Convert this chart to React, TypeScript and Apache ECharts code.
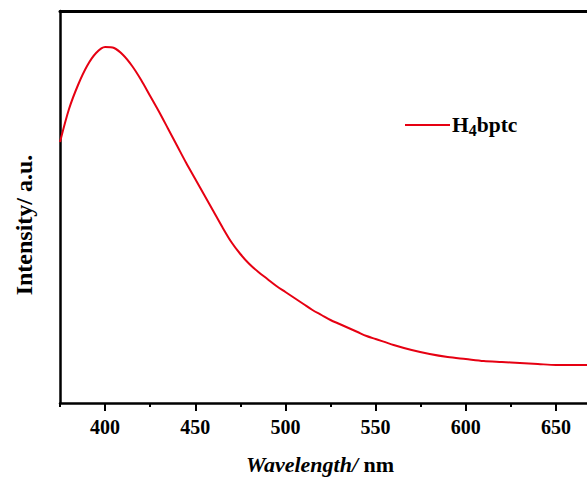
import { useEffect, useRef } from "react";
import * as echarts from "echarts";

const wavelengths = [
  375, 380, 385, 390, 395, 400, 405, 410, 415, 420, 425, 430, 435, 440, 445,
  450, 455, 460, 465, 470, 475, 480, 485, 490, 495, 500, 505, 510, 515, 520,
  525, 530, 535, 540, 545, 550, 560, 570, 580, 590, 600, 610, 620, 630, 640,
  650, 660, 670, 675,
];
const intensities = [
  261, 294, 318, 337, 350, 356, 355, 348, 337, 323, 307, 291, 274, 257, 240,
  224, 208, 192, 176, 161, 149, 139, 131, 124, 117, 111, 105, 99, 93, 88,
  83, 79, 75, 71, 67, 64, 58, 53, 49, 46, 44, 42, 41, 40, 39,
  38, 38, 38, 38,
];
const tickLabels = [
  "375", "400", "425", "450", "475", "500", "525", "550", "575", "600", "625", "650", "675",
];
const seriesName = "H4bptc";

export default function App() {
  const ref = useRef<HTMLDivElement>(null);
  useEffect(() => {
    const chart = echarts.init(ref.current!, undefined, { renderer: "svg" });
    const font = "'Liberation Serif', 'Times New Roman', serif";
    chart.setOption({
      animation: false,
      backgroundColor: "#fff",
      grid: { left: 60, top: 11, right: 0, bottom: 74, containLabel: false },
      legend: {
        data: [{ name: seriesName, icon: "rect" }],
        left: 405,
        top: 110,
        padding: 0,
        itemWidth: 45,
        itemHeight: 2,
        itemStyle: { color: "#e60012" },
        formatter: () => "{a|H}{b|4}{a|bptc}",
        textStyle: {
          padding: [0, 0, 0, -3],
          rich: {
            a: { fontSize: 21.5, fontWeight: "bold", fontFamily: font, color: "#000", lineHeight: 26, verticalAlign: "middle" },
            b: { fontSize: 16, fontWeight: "bold", fontFamily: font, color: "#000", lineHeight: 16, verticalAlign: "bottom", padding: [12, 0, 0, 0] },
          },
        },
      },
      xAxis: [
        {
          type: "value",
          min: 375,
          max: 675,
          interval: 25,
          position: "bottom",
          axisLine: { show: true, lineStyle: { color: "#000", width: 2.5 } },
          axisTick: { show: true, inside: false, length: 4, lineStyle: { color: "#000", width: 2 } },
          axisLabel: { show: false },
          splitLine: { show: false },
        },
        {
          type: "category",
          data: tickLabels,
          boundaryGap: false,
          position: "bottom",
          axisLine: { show: false },
          axisTick: { show: true, length: 8, interval: (i: number) => i % 2 === 1, lineStyle: { color: "#000", width: 2 } },
          axisLabel: {
            show: true,
            interval: (i: number) => i % 2 === 1,
            fontSize: 20,
            fontWeight: "bold",
            fontFamily: font,
            color: "#000",
            margin: 14,
          },
          splitLine: { show: false },
        },
        {
          type: "value",
          min: 375,
          max: 675,
          position: "top",
          axisLine: { show: true, lineStyle: { color: "#000", width: 3 } },
          axisTick: { show: false },
          axisLabel: { show: false },
          splitLine: { show: false },
        },
      ],
      yAxis: {
        type: "value",
        min: 0,
        max: 392,
        axisLine: { show: true, lineStyle: { color: "#000", width: 2.5 } },
        axisTick: { show: false },
        axisLabel: { show: false },
        splitLine: { show: false },
      },
      series: [
        {
          name: seriesName,
          type: "line",
          xAxisIndex: 0,
          data: wavelengths.map((w, i) => [w, intensities[i]]),
          symbol: "none",
          showSymbol: false,
          smooth: 0.3,
          lineStyle: { color: "#e60012", width: 2 },
          itemStyle: { color: "#e60012" },
        },
      ],
      graphic: [
        {
          type: "text",
          x: 320,
          y: 464,
          style: {
            text: "{i|Wavelength/}{n| nm}",
            align: "center",
            verticalAlign: "middle",
            rich: {
              i: { fontSize: 22, fontWeight: "bold", fontStyle: "italic", fontFamily: font, fill: "#000", color: "#000" },
              n: { fontSize: 22, fontWeight: "bold", fontFamily: font, fill: "#000", color: "#000" },
            },
          },
        },
        {
          type: "text",
          x: 24,
          y: 225,
          rotation: Math.PI / 2,
          style: {
            text: "Intensity/ a.u.",
            align: "center",
            verticalAlign: "middle",
            fontSize: 24,
            fontWeight: "bold",
            fontFamily: font,
            fill: "#000",
          },
        },
      ],
    });
    return () => chart.dispose();
  }, []);
  return (
    <div style={{ position: "absolute", left: 0, top: 0, width: 587, height: 477, overflow: "hidden" }}>
      <div ref={ref} style={{ width: 601, height: 477 }} />
    </div>
  );
}
